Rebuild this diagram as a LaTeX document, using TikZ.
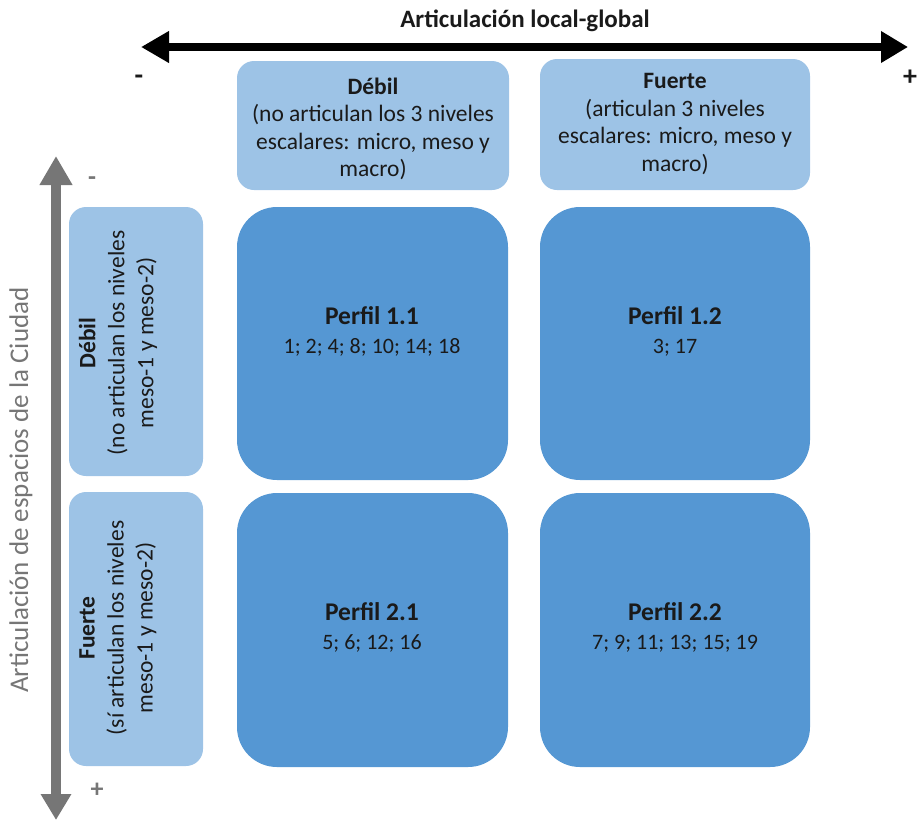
\documentclass[tikz,border=0pt]{standalone}
\usepackage{fontspec}
\setmainfont{Carlito}
\usetikzlibrary{arrows.meta}
\definecolor{lightcell}{HTML}{9DC3E6}
\definecolor{darkcell}{HTML}{5597D3}
\definecolor{axisgray}{HTML}{767676}
\definecolor{inktext}{HTML}{1A1A1A}
\tikzset{
  headbox/.style={fill=lightcell, draw=none, rounded corners=17pt, inner sep=0pt},
  cellbox/.style={fill=darkcell, draw=none, rounded corners=40pt, inner sep=0pt},
  boxtext/.style={align=center, text=inktext, font=\fontsize{23.5}{27.5}\selectfont, inner sep=0pt},
  rowtext/.style={align=center, text=inktext, font=\fontsize{23.5}{29}\selectfont, inner sep=0pt, rotate=90},
  celltext/.style={align=center, text=inktext, font=\fontsize{22}{29}\selectfont, inner sep=0pt},
}
\newcommand{\celltitle}[1]{{\fontsize{25.5}{29}\selectfont\bfseries #1}}
\begin{document}
\begin{tikzpicture}[x=1pt, y=-1pt]
\useasboundingbox (0,0) rectangle (917,820);

% horizontal axis
\node[font=\fontsize{25}{28}\selectfont\bfseries, text=inktext] (htitle) at (525,21) {Articulación local-global};
\coordinate (hl) at (141,47);
\coordinate (hr) at (908,47);
\draw[line width=8.5pt, {Triangle[length=28pt,width=30pt]}-{Triangle[length=27pt,width=30pt]}] (hl) -- (hr);
\node[font=\fontsize{28}{28}\selectfont\bfseries, text=inktext] (hminus) at (139,80) {-};
\node[font=\fontsize{28}{28}\selectfont\bfseries, text=inktext] (hplus) at (910,78) {+};

% vertical axis
\coordinate (vt) at (56,156);
\coordinate (vb) at (56,820);
\draw[axisgray, line width=10pt, {Triangle[length=29pt,width=31pt]}-{Triangle[length=26pt,width=29pt]}] (vt) -- (vb);
\node[font=\fontsize{26}{26}\selectfont\bfseries, text=axisgray] (vminus) at (92,181) {-};
\node[font=\fontsize{26}{26}\selectfont\bfseries, text=axisgray] (vplus) at (97,790) {+};
\node[rotate=90, font=\fontsize{27}{30}\selectfont, text=axisgray] (vtitle) at (21,490) {Articulación de espacios de la Ciudad};

% column headers
\path[headbox] (237,61) rectangle (509,190);
\node[boxtext] (colweak) at (373,129) {\textbf{Débil}\\(no articulan los 3 niveles\\escalares: micro, meso y\\macro)};
\path[headbox] (540,59) rectangle (810,190);
\node[boxtext] (colstrong) at (675,124) {\textbf{Fuerte}\\(articulan 3 niveles\\escalares: micro, meso y\\macro)};

% row headers
\path[headbox] (69,207) rectangle (203,476);
\node[rowtext] (rowweak) at (118,343) {\textbf{Débil}\\(no articulan los niveles\\meso-1 y meso-2)};
\path[headbox] (69,492) rectangle (203,766);
\node[rowtext] (rowstrong) at (118,628) {\textbf{Fuerte}\\(sí articulan los niveles\\meso-1 y meso-2)};

% profile cells
\path[cellbox] (237,207) rectangle (508,480);
\node[celltext] (p11) at (372,331) {\celltitle{Perfil 1.1}\\1; 2; 4; 8; 10; 14; 18};
\path[cellbox] (540,207) rectangle (810,480);
\node[celltext] (p12) at (675,331) {\celltitle{Perfil 1.2}\\3; 17};
\path[cellbox] (237,493) rectangle (508,767);
\node[celltext] (p21) at (372,627) {\celltitle{Perfil 2.1}\\5; 6; 12; 16};
\path[cellbox] (540,493) rectangle (810,767);
\node[celltext] (p22) at (675,627) {\celltitle{Perfil 2.2}\\7; 9; 11; 13; 15; 19};
\end{tikzpicture}
\end{document}
